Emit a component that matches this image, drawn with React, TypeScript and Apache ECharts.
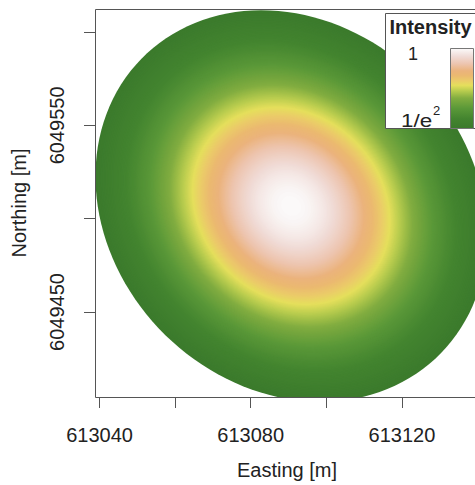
import React, { useEffect, useRef } from "react";
import * as echarts from "echarts";

// ---- data ----
// Gaussian beam footprint: [centre easting, centre northing, semi-major (m), semi-minor (m), azimuth of major axis (deg from north)]
const BEAMS: number[][] = [[613090.7, 6049506.8, 105.2, 51.0, -5.6]];
// displayed intensity range (1/e^2 .. 1)
const INTENSITY_RANGE = [Math.exp(-2), 1];
const LEGEND_LABELS = ["1", "1/e", "2"];
const LEGEND_TITLE = "Intensity";

// axis extents (metres)
const X_EXTENT = [613038.8, 613140.4];
const Y_EXTENT = [6049404.5, 6049612.3];
// tick positions and labelled ticks
const X_TICKS = [613040, 613060, 613080, 613100, 613120, 613140];
const X_LABELS = [613040, 613080, 613120];
const Y_TICKS = [6049450, 6049500, 6049550, 6049600];
const Y_LABELS = [6049450, 6049550];
const X_NAME = "Easting [m]";
const Y_NAME = "Northing [m]";

// colour palette (fraction of intensity range -> colour)
const PALETTE_STOPS = [0, 0.12, 0.25, 0.38, 0.47, 0.54, 0.6, 0.66, 0.72, 0.81, 0.9, 1];
const PALETTE_COLORS = [
  "#3b7a2c",
  "#43842f",
  "#5a9838",
  "#82ad40",
  "#b8cc4e",
  "#e5df5c",
  "#ebcb69",
  "#ebb970",
  "#ebb37c",
  "#edc5b0",
  "#f0dbd6",
  "#fbfafa",
];

// ---- layout ----
const W = 475;
const H = 485;
const PLOT = { left: 95, top: 9, right: 479, bottom: 397 };
const FONT = "'Liberation Sans', Arial, Helvetica, sans-serif";
const LINE = "#555";
const TEXT = "#222";
const RINGS = 170;
const SEGMENTS = 140;

function hexToRgb(h: string): number[] {
  const n = parseInt(h.slice(1), 16);
  return [(n >> 16) & 255, (n >> 8) & 255, n & 255];
}
function paletteColor(t: number): string {
  const tt = Math.max(0, Math.min(1, t));
  let i = 0;
  while (i < PALETTE_STOPS.length - 2 && tt > PALETTE_STOPS[i + 1]) i++;
  const f = (tt - PALETTE_STOPS[i]) / (PALETTE_STOPS[i + 1] - PALETTE_STOPS[i]);
  const a = hexToRgb(PALETTE_COLORS[i]);
  const b = hexToRgb(PALETTE_COLORS[i + 1]);
  const c = a.map((v, k) => Math.round(v + (b[k] - v) * f));
  return `rgb(${c[0]},${c[1]},${c[2]})`;
}

export default function App() {
  const ref = useRef<HTMLDivElement>(null);
  useEffect(() => {
    if (!ref.current) return;
    const chart = echarts.init(ref.current, null, { renderer: "svg", width: W, height: H });

    const pxX = (PLOT.right - PLOT.left) / (X_EXTENT[1] - X_EXTENT[0]);
    const pxY = (PLOT.bottom - PLOT.top) / (Y_EXTENT[1] - Y_EXTENT[0]);
    const xTickLeft = PLOT.left + (X_TICKS[0] - X_EXTENT[0]) * pxX;
    const xTickWidth = (X_TICKS[X_TICKS.length - 1] - X_TICKS[0]) * pxX;
    const yTickTop = PLOT.top + (Y_EXTENT[1] - Y_TICKS[Y_TICKS.length - 1]) * pxY;
    const yTickHeight = (Y_TICKS[Y_TICKS.length - 1] - Y_TICKS[0]) * pxY;

    const [iMin, iMax] = INTENSITY_RANGE;

    const renderItem = (_params: any, api: any) => {
      const cE = api.value(0);
      const cN = api.value(1);
      const a = api.value(2);
      const b = api.value(3);
      const az = (api.value(4) * Math.PI) / 180;
      const mE = Math.sin(az), mN = Math.cos(az);
      const nE = Math.cos(az), nN = -Math.sin(az);
      const children: any[] = [];
      for (let k = 0; k < RINGS; k++) {
        const t0 = k / RINGS;
        const I = iMin + t0 * (iMax - iMin);
        const rho = Math.sqrt(-Math.log(I) / 2);
        const color = paletteColor((k + 0.5) / RINGS);
        const pts: number[][] = [];
        for (let j = 0; j < SEGMENTS; j++) {
          const th = (2 * Math.PI * j) / SEGMENTS;
          const ca = Math.cos(th) * a * rho;
          const sb = Math.sin(th) * b * rho;
          pts.push(api.coord([cE + ca * mE + sb * nE, cN + ca * mN + sb * nN]));
        }
        children.push({ type: "polygon", shape: { points: pts }, style: { fill: color, stroke: null } });
      }
      return { type: "group", children };
    };

    const gradStops = PALETTE_STOPS.map((s, i) => ({ offset: 1 - s, color: PALETTE_COLORS[i] })).reverse();

    const baseGrid = { show: false, containLabel: false, outerBoundsMode: "none" };

    chart.setOption({
      animation: false,
      backgroundColor: "#ffffff",
      grid: [
        { ...baseGrid, left: PLOT.left, top: PLOT.top, width: PLOT.right - PLOT.left, height: PLOT.bottom - PLOT.top },
        { ...baseGrid, left: xTickLeft, top: PLOT.top, width: xTickWidth, height: PLOT.bottom - PLOT.top },
        { ...baseGrid, left: PLOT.left, top: yTickTop, width: PLOT.right - PLOT.left, height: yTickHeight },
      ],
      xAxis: [
        {
          type: "value", gridIndex: 0, min: X_EXTENT[0], max: X_EXTENT[1],
          axisLine: { show: false }, axisTick: { show: false }, axisLabel: { show: false }, splitLine: { show: false },
          name: X_NAME, nameLocation: "middle", nameGap: 63,
          nameTextStyle: { fontFamily: FONT, fontSize: 20, color: TEXT },
        },
        {
          type: "value", gridIndex: 1, min: X_TICKS[0], max: X_TICKS[X_TICKS.length - 1],
          interval: X_TICKS[1] - X_TICKS[0],
          axisLine: { show: true, lineStyle: { color: LINE, width: 1 } },
          axisTick: { show: true, length: 11, inside: false, lineStyle: { color: LINE, width: 1 } },
          axisLabel: {
            show: true, margin: 28, fontFamily: FONT, fontSize: 20, color: TEXT,
            showMinLabel: true, showMaxLabel: true,
            formatter: (v: number) => (X_LABELS.includes(Math.round(v)) ? String(Math.round(v)) : ""),
          },
          splitLine: { show: false },
        },
        { type: "value", gridIndex: 2, show: false, min: X_EXTENT[0], max: X_EXTENT[1] },
      ],
      yAxis: [
        {
          type: "value", gridIndex: 0, min: Y_EXTENT[0], max: Y_EXTENT[1],
          axisLine: { show: false }, axisTick: { show: false }, axisLabel: { show: false }, splitLine: { show: false },
          name: Y_NAME, nameLocation: "middle", nameRotate: 90, nameGap: 66,
          nameTextStyle: { fontFamily: FONT, fontSize: 20, color: TEXT },
        },
        { type: "value", gridIndex: 1, show: false, min: Y_EXTENT[0], max: Y_EXTENT[1] },
        {
          type: "value", gridIndex: 2, min: Y_TICKS[0], max: Y_TICKS[Y_TICKS.length - 1],
          interval: Y_TICKS[1] - Y_TICKS[0],
          axisLine: { show: true, lineStyle: { color: LINE, width: 1 } },
          axisTick: { show: true, length: 11, inside: false, lineStyle: { color: LINE, width: 1 } },
          axisLabel: {
            show: true, margin: 28, rotate: 90, fontFamily: FONT, fontSize: 20, color: TEXT,
            showMinLabel: true, showMaxLabel: true,
            formatter: (v: number) => (Y_LABELS.includes(Math.round(v)) ? String(Math.round(v)) : ""),
          },
          splitLine: { show: false },
        },
      ],
      series: [
        {
          type: "custom",
          coordinateSystem: "cartesian2d",
          xAxisIndex: 0,
          yAxisIndex: 0,
          clip: true,
          silent: true,
          encode: { x: 0, y: 1 },
          data: BEAMS,
          renderItem,
        },
      ],
      graphic: [
        {
          type: "rect", z: 50, silent: true,
          shape: { x: PLOT.left + 0.5, y: PLOT.top + 0.5, width: PLOT.right - PLOT.left, height: PLOT.bottom - PLOT.top },
          style: { fill: "none", stroke: LINE, lineWidth: 1 },
        },
        {
          type: "rect", z: 60, silent: true,
          shape: { x: 385.5, y: 13.5, width: 100, height: 115 },
          style: { fill: "#ffffff", stroke: LINE, lineWidth: 1 },
        },
        {
          type: "text", z: 61, silent: true, x: 430.5, y: 27,
          style: { text: LEGEND_TITLE, font: `bold 20px ${FONT}`, fill: TEXT, align: "center", verticalAlign: "middle" },
        },
        {
          type: "text", z: 61, silent: true, x: 413, y: 54,
          style: { text: LEGEND_LABELS[0], font: `18px ${FONT}`, fill: TEXT, align: "center", verticalAlign: "middle" },
        },
        {
          type: "text", z: 61, silent: true, x: 401, y: 120, scaleX: 1.18,
          style: { text: LEGEND_LABELS[1], font: `19px ${FONT}`, fill: TEXT, align: "left", verticalAlign: "middle" },
        },
        {
          type: "text", z: 61, silent: true, x: 433, y: 110,
          style: { text: LEGEND_LABELS[2], font: `13px ${FONT}`, fill: TEXT, align: "left", verticalAlign: "middle" },
        },
        {
          type: "rect", z: 61, silent: true,
          shape: { x: 450.5, y: 48.5, width: 23, height: 80 },
          style: {
            fill: new echarts.graphic.LinearGradient(0, 0, 0, 1, gradStops),
            stroke: "#777", lineWidth: 1,
          },
        },
      ],
    });
    return () => chart.dispose();
  }, []);
  return <div ref={ref} style={{ position: "absolute", left: 0, top: 0, width: W, height: H }} />;
}
